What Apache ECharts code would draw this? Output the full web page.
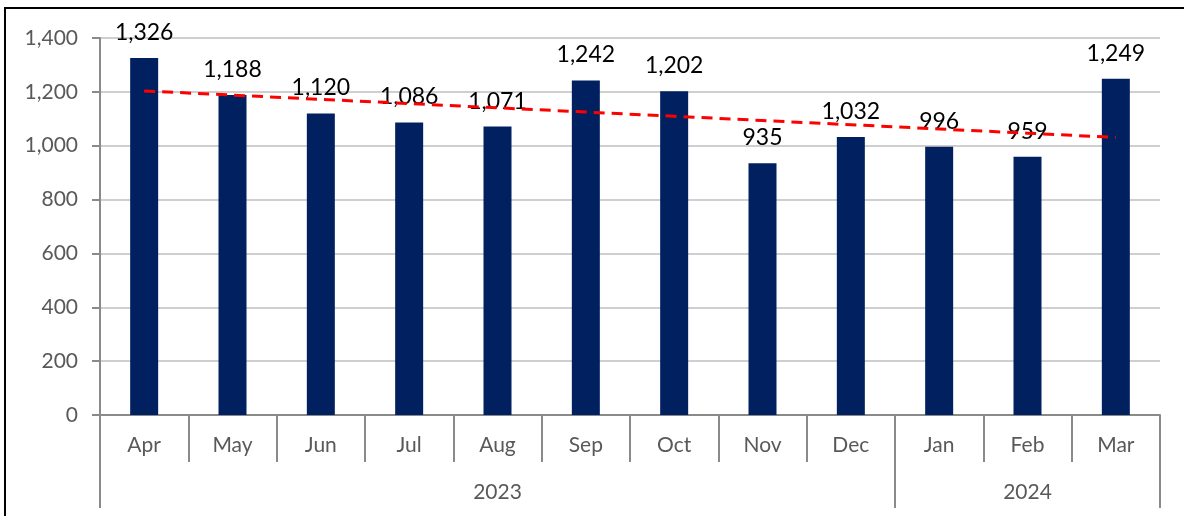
<!DOCTYPE html>
<html><head><meta charset="utf-8">
<script src="https://cdn.jsdelivr.net/npm/echarts@6/dist/echarts.min.js"></script>
<style>
html,body{margin:0;padding:0;background:#fff;overflow:hidden;}
#wrap{position:relative;width:1184px;height:516px;}
#frame{position:absolute;left:4px;top:7px;width:1200px;height:530px;border:2px solid #000;box-sizing:border-box;pointer-events:none;z-index:2;}
#chart{position:absolute;left:0;top:0;width:1184px;height:516px;}
</style></head>
<body><div id="wrap"><div id="chart"></div><div id="frame"></div></div>
<script>
const months = ['Apr','May','Jun','Jul','Aug','Sep','Oct','Nov','Dec','Jan','Feb','Mar'];
const values = [1326,1188,1120,1086,1071,1242,1202,935,1032,996,959,1249];
const years = ['2023','2024'];
const yearSpans = [9,3];
const yTicks = [0,200,400,600,800,1000,1200,1400];

// linear trendline (least squares) from the values
const n = values.length;
const mx = (n - 1) / 2;
const my = values.reduce((a,b)=>a+b,0)/n;
let sxy = 0, sxx = 0;
values.forEach((v,i)=>{ sxy += (i-mx)*(v-my); sxx += (i-mx)*(i-mx); });
const slope = sxy/sxx;
const trend = values.map((v,i)=> my + slope*(i-mx));

// year boundaries and centres along the category span
const yearBounds = [0]; const yearCentres = [];
yearSpans.forEach((s,i)=>{ const start = yearBounds[yearBounds.length-1]; yearCentres.push(start + s/2); yearBounds.push(start + s); });

const axisColor = '#8a8a8a';
const labFont = 'Lato';
const chart = echarts.init(document.getElementById('chart'));
chart.setOption({
  animation:false,
  grid:{left:100,right:24,top:38,bottom:101},
  xAxis:[{
    type:'category', data:months, boundaryGap:true,
    axisLine:{lineStyle:{color:axisColor,width:2}},
    axisTick:{show:true,interval:0,length:47,lineStyle:{color:axisColor,width:2}},
    axisLabel:{interval:0,margin:20,color:'#595959',fontSize:21,fontFamily:labFont}
  },{
    type:'value', min:0, max:months.length, position:'bottom',
    axisLine:{show:false},
    splitLine:{show:false},
    axisTick:{show:true,customValues:yearBounds,length:93,lineStyle:{color:axisColor,width:2}},
    axisLabel:{customValues:yearCentres,margin:67,color:'#595959',fontSize:21,fontFamily:labFont,
      formatter:(v)=>{ const i = yearCentres.indexOf(v); return i>=0 ? years[i] : ''; }}
  }],
  yAxis:{
    type:'value', min:yTicks[0], max:yTicks[yTicks.length-1], interval:200,
    axisLine:{show:true,lineStyle:{color:axisColor,width:2}},
    axisTick:{show:true,length:8,lineStyle:{color:axisColor,width:2}},
    splitLine:{lineStyle:{color:'#bfbfbf',width:1.5}},
    axisLabel:{margin:22,color:'#595959',fontSize:21,fontFamily:labFont,
      formatter:(v)=>v.toLocaleString('en-US')}
  },
  series:[{
    type:'bar', data:values, xAxisIndex:0, barWidth:28,
    itemStyle:{color:'#002060'},
    label:{show:true,position:'top',distance:14,color:'#000',fontSize:23,fontFamily:labFont,
      formatter:(p)=>p.value.toLocaleString('en-US')}
  },{
    type:'line', data:trend, xAxisIndex:0, showSymbol:false, symbol:'none', silent:true, z:5,
    lineStyle:{color:'#ff0000',width:3,type:[11,7]}
  }]
});
</script></body></html>
